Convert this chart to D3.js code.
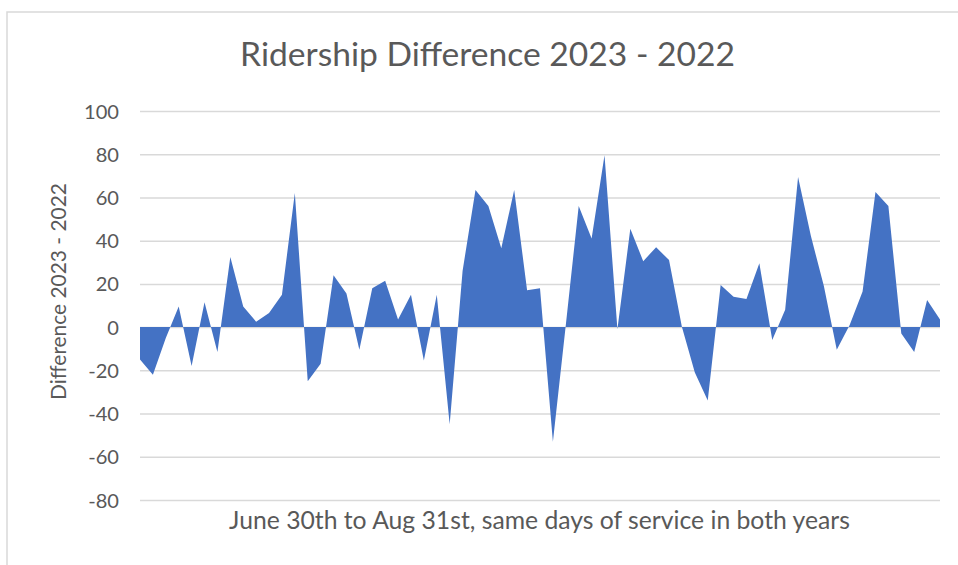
<!DOCTYPE html>
<html>
<head>
<meta charset="utf-8">
<script src="https://cdn.jsdelivr.net/npm/d3@7"></script>
<style>
  html, body { margin: 0; padding: 0; background: #ffffff; }
  svg { display: block; }
</style>
</head>
<body>
<svg id="chart" width="958" height="565"></svg>
<script>
// ---- data ----
const title = "Ridership Difference 2023 - 2022";
const xTitle = "June 30th to Aug 31st, same days of service in both years";
const yTitle = "Difference 2023 - 2022";
const startDay = "2023-06-30";
const endDay = "2023-08-31";
const values = [
  -15, -22, -5, 9.5, -18, 11.5, -11.5, 32.5, 9.5, 2.5,
  6.5, 15, 62, -25, -17, 24, 15.5, -10.5, 18, 21.5,
  3.5, 15, -15.5, 15, -45, 26, 63.5, 56, 36.5, 63.5,
  17, 18, -53, 1, 56, 41, 79.5, -1, 45.5, 30.5,
  37, 31, 0, -21, -34, 19.5, 14, 13, 29.5, -6,
  8, 69.5, 42, 19, -10.5, 1, 16.5, 62.5, 56, -3,
  -11.5, 12.5, 3.5
];
const yTicks = [-80, -60, -40, -20, 0, 20, 40, 60, 80, 100];
const yTickLabels = ["-80", "-60", "-40", "-20", "0", "20", "40", "60", "80", "100"];

// categories: days of service
const parse = d3.timeParse("%Y-%m-%d");
const categories = d3.timeDay.range(parse(startDay), d3.timeDay.offset(parse(endDay), 1))
  .map(d3.timeFormat("%b %d"));
const data = categories.map((c, i) => ({ cat: c, v: values[i] }));

// ---- layout ----
const svg = d3.select("#chart");
const W = 958, H = 565;
const plot = { left: 140, right: 940, top: 111, bottom: 500 };
const textColor = "#595959";
const gridColor = "#d9d9d9";
const fontFamily = "Lato, 'Open Sans', 'Liberation Sans', sans-serif";

svg.append("rect").attr("width", W).attr("height", H).attr("fill", "#fff");
// chart border (runs off right/bottom)
svg.append("rect")
  .attr("x", 7).attr("y", 12)
  .attr("width", W + 10).attr("height", H + 10)
  .attr("fill", "none").attr("stroke", gridColor).attr("stroke-width", 1.5);

const x = d3.scalePoint().domain(categories).range([plot.left, plot.right]);
const y = d3.scaleLinear().domain([-80, 100]).range([plot.bottom, plot.top]);

// gridlines
const grid = svg.append("g").attr("transform", `translate(${plot.left},0)`)
  .call(d3.axisLeft(y).tickValues(yTicks).tickSize(-(plot.right - plot.left)).tickFormat(""));
grid.select(".domain").remove();
grid.selectAll(".tick line").attr("stroke", gridColor).attr("stroke-width", 1.5);

// area
const area = d3.area()
  .x(d => x(d.cat))
  .y0(y(0))
  .y1(d => y(d.v));
svg.append("path").datum(data)
  .attr("d", area)
  .attr("fill", "#4472C4");

// y axis labels
const yAxis = svg.append("g").attr("transform", `translate(119,0)`)
  .call(d3.axisLeft(y).tickValues(yTicks).tickSize(0).tickPadding(0)
    .tickFormat((d, i) => yTickLabels[i]));
yAxis.select(".domain").remove();
yAxis.selectAll("text")
  .attr("fill", textColor)
  .style("font-family", fontFamily)
  .attr("dy", "0.35em");

function fit(sel, target, start) {
  let fs = start;
  sel.style("font-size", fs + "px");
  const w = sel.node().getComputedTextLength();
  fs = fs * target / w;
  sel.style("font-size", fs + "px");
  return fs;
}
// tick font size fitted to "100" width
const t100 = yAxis.selectAll(".tick text").filter(d => d === 100);
const tfs = fit(t100, 35, 20);
yAxis.selectAll("text").style("font-size", tfs + "px");

// title
const tEl = svg.append("text").text(title)
  .attr("x", 487.5).attr("y", 66).attr("text-anchor", "middle")
  .attr("fill", textColor).style("font-family", fontFamily);
fit(tEl, 495, 30);

// x title
const xEl = svg.append("text").text(xTitle)
  .attr("x", 539.5).attr("y", 529).attr("text-anchor", "middle")
  .attr("fill", textColor).style("font-family", fontFamily);
fit(xEl, 621, 20);

// y title
const yEl = svg.append("text").text(yTitle)
  .attr("transform", `translate(66,291.5) rotate(-90)`)
  .attr("text-anchor", "middle")
  .attr("fill", textColor).style("font-family", fontFamily);
fit(yEl, 217, 20);
</script>
</body>
</html>
